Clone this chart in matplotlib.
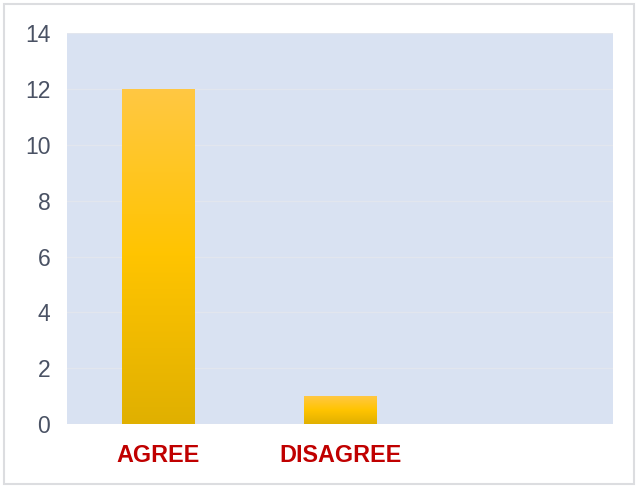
import numpy as np
import matplotlib
matplotlib.use("Agg")
import matplotlib.pyplot as plt
from matplotlib.colors import LinearSegmentedColormap
from matplotlib.patches import Rectangle

categories = ["AGREE", "DISAGREE", ""]
counts = [12, 1, 0]
yticks = [0, 2, 4, 6, 8, 10, 12, 14]

plt.rcParams["font.family"] = ["Liberation Sans", "DejaVu Sans"]

fig = plt.figure(figsize=(6.38, 4.88), dpi=100)
fig.patches.append(Rectangle((0.006, 0.008), 0.988, 0.984, transform=fig.transFigure,
                             fill=False, edgecolor="#dcdde0", linewidth=1.5))
ax = fig.add_axes([0.105, 0.131, 0.856, 0.801])
ax.set_facecolor("#d9e2f2")

# gold gradient, light at top, darker at the base
gold = LinearSegmentedColormap.from_list("gold", ["#e0b000", "#ffc400", "#ffc843"])
grad = np.linspace(0, 1, 256).reshape(-1, 1)

x = np.arange(len(categories))
bars = ax.bar(x, counts, width=0.4, color="none", edgecolor="none", zorder=2)
for b, v in zip(bars, counts):
    if v <= 0:
        continue
    x0 = b.get_x()
    im = ax.imshow(grad, cmap=gold, origin="lower", aspect="auto",
                   extent=(x0, x0 + b.get_width(), 0, v), zorder=2,
                   vmin=0, vmax=1)
    im.set_clip_path(b)

ax.set_xlim(-0.5, 2.5)
ax.set_ylim(0, 14)
ax.set_yticks(yticks)
ax.set_xticks(x)
ax.set_xticklabels(categories)
ax.grid(axis="y", color="#e2e6ee", linewidth=1, zorder=1)
ax.set_axisbelow(True)

for s in ax.spines.values():
    s.set_visible(False)
ax.tick_params(axis="both", length=0)
ax.tick_params(axis="y", labelsize=16.5, labelcolor="#4a5264", pad=12)
ax.tick_params(axis="x", pad=14)
for lab in ax.get_xticklabels():
    lab.set_fontsize(16.8)
    lab.set_fontweight("bold")
    lab.set_color("#c00000")

fig.savefig("out.png", dpi=100)
